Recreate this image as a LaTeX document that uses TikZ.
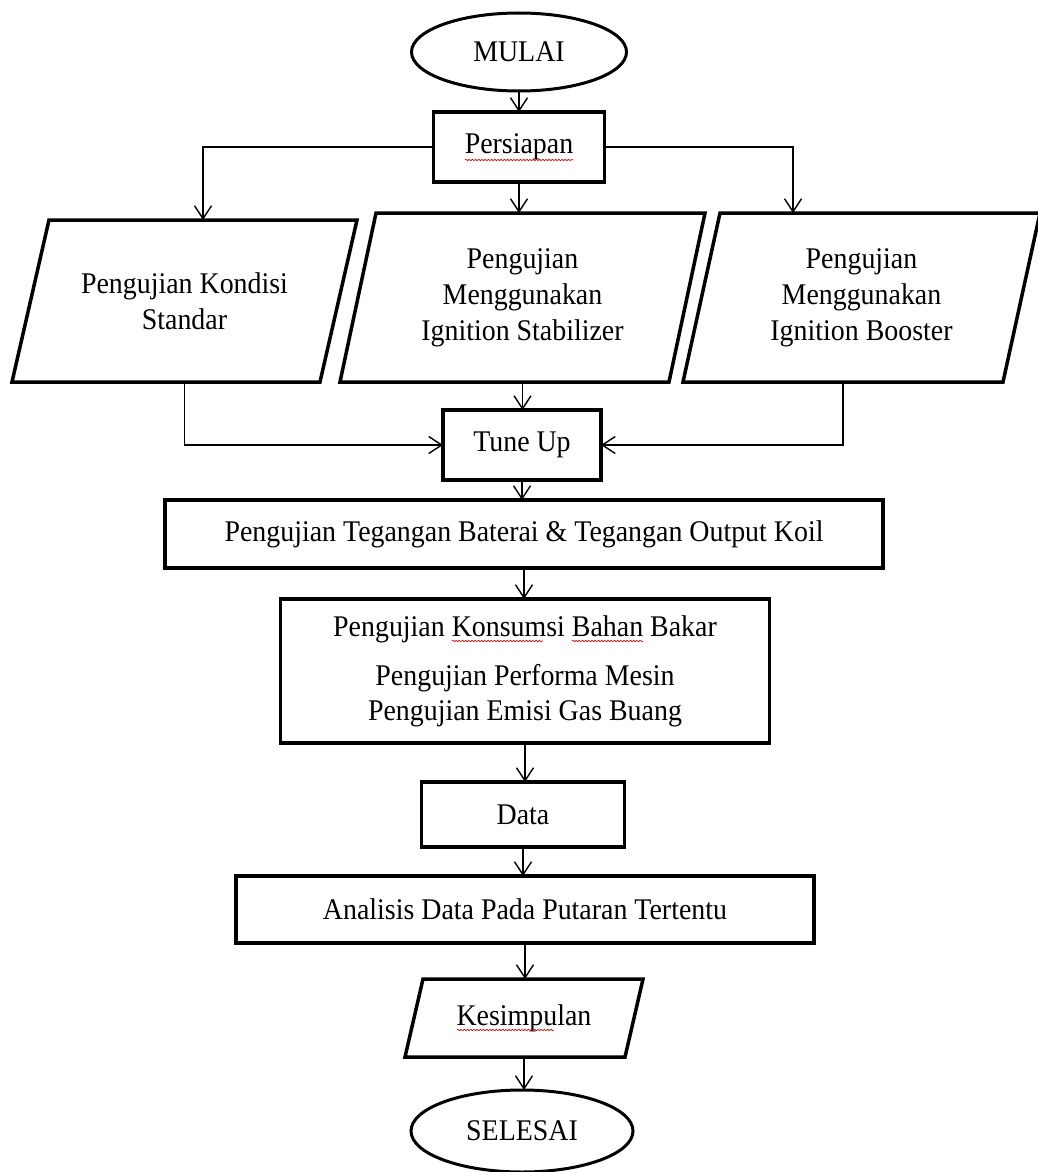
\documentclass[tikz,border=0pt]{standalone}
\usepackage{fontspec}
\setmainfont{Liberation Serif}[FakeStretch=0.93]
\usetikzlibrary{shapes.geometric,arrows.meta,calc,decorations.pathmorphing}
\begin{document}
\begin{tikzpicture}[x=1pt,y=-1pt,
  every node/.style={font=\fontsize{30}{36}\selectfont, align=center, inner sep=0pt, outer sep=0pt},
  procbox/.style={draw, line width=3.5pt, rectangle},
  term/.style={draw, line width=3pt, ellipse},
  iobox/.style={rectangle},
  para/.style={line width=3.5pt, line join=miter},
  arr/.style={line width=1.4pt, -{Straight Barb[length=13pt,width=17pt,line width=1.4pt]}},
  spellwave/.style={draw=red!85!black, line width=0.6pt, decorate, decoration={snake, amplitude=0.8pt, segment length=3.2pt}}]
\fill[white] (0,0) rectangle (1038,1172);
\useasboundingbox (0,0) rectangle (1038,1172);

% nodes
\node[term, minimum width=215pt, minimum height=78pt] (mulai) at (519,52) {MULAI};
\node[procbox, minimum width=171pt, minimum height=70pt] (persiapan) at (519,147) {Persiapan};
\node[iobox, minimum width=345pt, minimum height=162pt] (p1) at (184.5,301) {Pengujian Kondisi\\Standar};
\node[iobox, minimum width=365pt, minimum height=169pt] (p2) at (522.5,297.5) {Pengujian\\Menggunakan\\Ignition Stabilizer};
\node[iobox, minimum width=357pt, minimum height=169pt] (p3) at (861.5,297.5) {Pengujian\\Menggunakan\\Ignition Booster};
\node[procbox, minimum width=158pt, minimum height=70pt] (tune) at (522,445) {Tune Up};
\node[procbox, minimum width=718pt, minimum height=68pt] (teg) at (524,534) {Pengujian Tegangan Baterai \& Tegangan Output Koil};
\node[procbox, minimum width=489pt, minimum height=144pt, font=\fontsize{30}{35}\selectfont] (uji) at (525,671) {Pengujian Konsumsi Bahan Bakar\\[14pt]Pengujian Performa Mesin\\Pengujian Emisi Gas Buang};
\node[procbox, minimum width=203pt, minimum height=65pt] (data) at (523,814.5) {Data};
\node[procbox, minimum width=578pt, minimum height=67pt] (anal) at (525,909.5) {Analisis Data Pada Putaran Tertentu};
\node[iobox, minimum width=238pt, minimum height=78pt] (kes) at (524,1018) {Kesimpulan};
\node[term, minimum width=222pt, minimum height=82pt] (selesai) at (522,1131) {SELESAI};

% parallelogram outlines
\draw[para] ($(p1.north west)+(37,0)$) -- (p1.north east) -- ($(p1.south east)+(-37,0)$) -- (p1.south west) -- cycle;
\draw[para] ($(p2.north west)+(36,0)$) -- (p2.north east) -- ($(p2.south east)+(-36,0)$) -- (p2.south west) -- cycle;
\draw[para] ($(p3.north west)+(37,0)$) -- (p3.north east) -- ($(p3.south east)+(-37,0)$) -- (p3.south west) -- cycle;
\draw[para] ($(kes.north west)+(18,0)$) -- (kes.north east) -- ($(kes.south east)+(-18,0)$) -- (kes.south west) -- cycle;

% spell-check underlines
\draw[spellwave] ($(persiapan)+(-54,13)$) -- ($(persiapan)+(54,13)$);
\draw[spellwave] ($(uji)+(-73,-30)$) -- ($(uji)+(18,-30)$);
\draw[spellwave] ($(uji)+(47,-30)$) -- ($(uji)+(118,-30)$);
\draw[spellwave] ($(kes)+(-67,12)$) -- ($(kes)+(30,12)$);

% connectors
\coordinate (p1top) at ($(p1.north)+(18.5,0)$);
\coordinate (p3top) at ($(p3.north west)+(110,0)$);
\coordinate (p3bot) at ($(p3.south west)+(160,0)$);
\draw[arr] (mulai.south) -- (mulai.south |- persiapan.north);
\draw[arr] (persiapan.south) -- (persiapan.south |- p2.north);
\draw[arr] (persiapan.west) -| (p1top);
\draw[arr] (persiapan.east) -| (p3top);
\draw[arr] (p1.south) |- (tune.west);
\draw[arr] (p3bot) |- (tune.east);
\draw[arr] (p2.south) -- (p2.south |- tune.north);
\draw[arr] (tune.south) -- (tune.south |- teg.north);
\draw[arr] (teg.south) -- (teg.south |- uji.north);
\draw[arr] (uji.south) -- (uji.south |- data.north);
\draw[arr] (data.south) -- (data.south |- anal.north);
\draw[arr] (anal.south) -- (anal.south |- kes.north);
\draw[arr] (kes.south) -- (kes.south |- selesai.north);
\end{tikzpicture}
\end{document}
